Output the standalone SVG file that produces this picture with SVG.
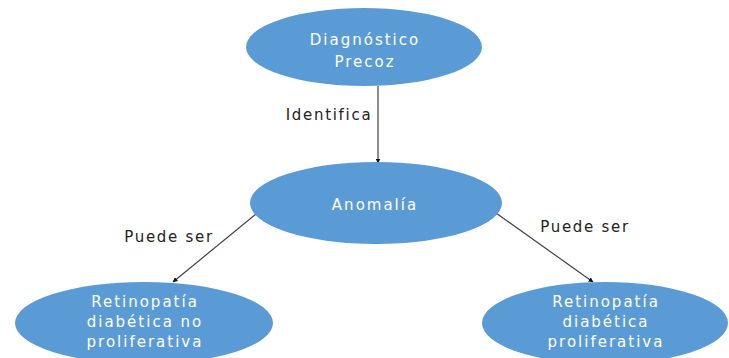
<svg xmlns="http://www.w3.org/2000/svg" width="729" height="358" viewBox="0 0 729 358">
<style>
.node{fill:#5b9bd5;}
.nt{font-family:"DejaVu Sans",sans-serif;font-size:15px;fill:#ffffff;text-anchor:middle;letter-spacing:2px;}
.lbl{font-family:"DejaVu Sans",sans-serif;font-size:15px;fill:#222222;text-anchor:middle;letter-spacing:1.7px;}
.edge{stroke:#404040;stroke-width:1.2;fill:none;marker-end:url(#ah);}
</style>
<defs>
<marker id="ah" viewBox="0 0 10 10" refX="9" refY="5" markerWidth="5" markerHeight="5" orient="auto" markerUnits="userSpaceOnUse">
<path d="M0,0 L10,5 L0,10 z" fill="#111111"/>
</marker>
</defs>
<rect width="729" height="358" fill="#ffffff"/>
<g id="connectors">
<line class="edge" x1="378" y1="86" x2="378" y2="163"/>
<line class="edge" x1="256" y1="214" x2="173" y2="282"/>
<line class="edge" x1="496" y1="213" x2="593" y2="282"/>
<text class="lbl" x="329" y="120">Identifica</text>
<text class="lbl" x="169" y="242">Puede ser</text>
<text class="lbl" x="585" y="232">Puede ser</text>
</g>
<g id="diagnostico">
<ellipse class="node" cx="364" cy="47" rx="118" ry="39"/>
<text class="nt" x="365" y="45">Diagnóstico</text>
<text class="nt" x="365" y="67">Precoz</text>
</g>
<g id="anomalia">
<ellipse class="node" cx="376" cy="203" rx="126" ry="41"/>
<text class="nt" x="375" y="210">Anomalía</text>
</g>
<g id="no_proliferativa">
<ellipse class="node" cx="144" cy="323" rx="129" ry="41"/>
<text class="nt" x="145" y="307">Retinopatía</text>
<text class="nt" x="145" y="327">diabética no</text>
<text class="nt" x="145" y="347">proliferativa</text>
</g>
<g id="proliferativa">
<ellipse class="node" cx="605" cy="323" rx="123" ry="41"/>
<text class="nt" x="606" y="307">Retinopatía</text>
<text class="nt" x="606" y="327">diabética</text>
<text class="nt" x="606" y="347">proliferativa</text>
</g>
</svg>
